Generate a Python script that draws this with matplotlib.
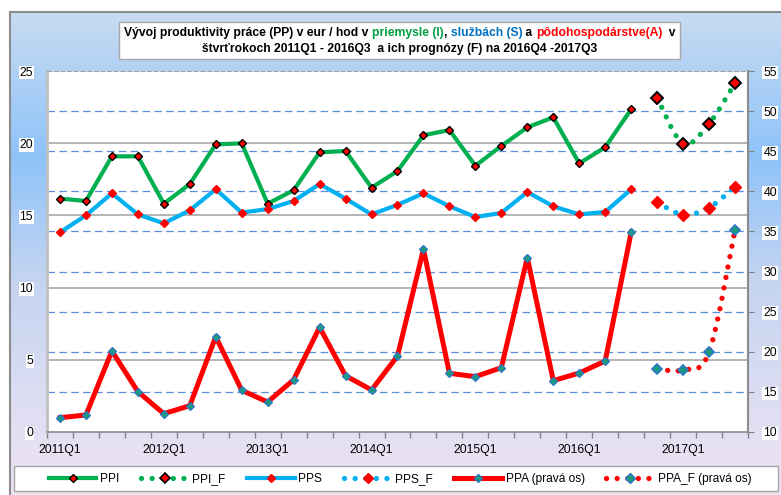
import numpy as np
import matplotlib
matplotlib.use("Agg")
import matplotlib.pyplot as plt
import matplotlib.transforms as mtransforms
from matplotlib.path import Path
from matplotlib.patches import PathPatch, Rectangle
from matplotlib.lines import Line2D
from matplotlib import font_manager
from matplotlib.colors import LinearSegmentedColormap

# --- data (quarters 2011Q1 .. 2017Q3) ---
xlabels = ["2011Q1", "2012Q1", "2013Q1", "2014Q1", "2015Q1", "2016Q1", "2017Q1"]
n_quarters = 27
n_actual = 23  # 2011Q1 - 2016Q3

ppi = [16.16, 16.0, 19.09, 19.09, 15.81, 17.17, 19.92, 19.99, 15.81, 16.74, 19.37, 19.46,
       16.92, 18.07, 20.55, 20.91, 18.44, 19.81, 21.1, 21.79, 18.6, 19.72, 22.35]
ppi_f = [23.15, 19.97, 21.35, 24.17]
pps = [13.83, 15.0, 16.53, 15.07, 14.45, 15.35, 16.81, 15.19, 15.44, 16.0, 17.17, 16.16,
       15.07, 15.73, 16.53, 15.63, 14.89, 15.17, 16.62, 15.63, 15.07, 15.24, 16.81]
pps_f = [15.9, 15.05, 15.53, 16.99]
ppa = [11.78, 12.12, 20.1, 15.03, 12.28, 13.28, 21.88, 15.2, 13.74, 16.52, 23.05, 17.02,
       15.24, 19.47, 32.78, 17.32, 16.9, 18.02, 31.75, 16.4, 17.35, 18.85, 34.9]
ppa_f = [17.85, 17.73, 19.93, 35.18]

GREEN = "#00B050"
BLUE = "#00B0F0"
RED = "#FF0000"
TEAL = "#1E9A7A"
TEALEDGE = "#2A78C8"


def pick(names):
    for n in names:
        try:
            font_manager.findfont(n, fallback_to_default=False)
            return n
        except Exception:
            pass
    return "DejaVu Sans"


narrow = pick(["Liberation Sans Narrow", "Arial Narrow"])
is_narrow = narrow != "DejaVu Sans"
if not is_narrow:
    narrow = pick(["Liberation Sans", "Arial"])
tick_fs = 10.5 if is_narrow else 8.8
leg_fs = 10.5 if is_narrow else 8.6
plt.rcParams["font.family"] = [narrow, "DejaVu Sans"]


def smooth_path(xs, ys):
    # Excel-like smoothed line (cubic bezier segments)
    pts = np.column_stack([xs, ys]).astype(float)
    n = len(pts)
    verts = [pts[0]]
    codes = [Path.MOVETO]
    for i in range(n - 1):
        p0 = pts[i - 1] if i > 0 else pts[i]
        p1, p2 = pts[i], pts[i + 1]
        p3 = pts[i + 2] if i + 2 < n else pts[i + 1]
        verts += [p1 + (p2 - p0) / 6, p2 - (p3 - p1) / 6, p2]
        codes += [Path.CURVE4] * 3
    return Path(verts, codes)


W, H = 781, 495
fig = plt.figure(figsize=(W / 100, H / 100), dpi=100, facecolor="white")

# background gradient panel
bg = fig.add_axes([10 / W, 0, 1 - 10 / W, 1 - 12 / H], zorder=-10)
cmap = LinearSegmentedColormap.from_list(
    "bg", [(0.0, "#C8DBF2"), (0.3, "#8EC3F9"), (0.55, "#C3D4F1"), (1.0, "#F0E4F3")])
bg.imshow(np.linspace(0, 1, 256).reshape(-1, 1), aspect="auto", cmap=cmap,
          extent=[0, 1, 0, 1], origin="upper")
bg.set_axis_off()
fig.patches.append(Rectangle((10 / W, -0.01), 1, 1 - 12 / H + 0.01, transform=fig.transFigure,
                             fill=False, edgecolor="#8C8C8C", linewidth=1.5, zorder=-5))

ax = fig.add_axes([47 / W, 63 / H, 701 / W, 361 / H])
ax.set_facecolor("white")
ax2 = ax.twinx()

x_act = np.arange(n_actual)
x_fc = np.arange(n_actual, n_quarters)

ax.set_xlim(-0.5, n_quarters - 0.5)
ax.set_ylim(0, 25)
ax2.set_ylim(10, 55)

# grid: solid grey for left axis, dashed blue for right axis
for v in [5, 10, 15, 20]:
    ax.axhline(v, color="#A0A0A0", lw=1.1, zorder=1)
blend = mtransforms.blended_transform_factory(ax.transAxes, ax2.transData)
for v in range(15, 55, 5):
    ax.add_line(Line2D([0, 1], [v, v], transform=blend, color="#5A8DDA", lw=0.9,
                       linestyle=(0, (6, 3.5)), zorder=1.2))

dot = (0, (0.01, 2.0))
dot_lw = 3.8

# industry
ax.plot(x_act, ppi, color=GREEN, lw=3.0, marker="D", ms=4.2, mfc=RED, mec="black",
        mew=1.0, zorder=3)
ax.add_patch(PathPatch(smooth_path(x_fc, ppi_f), fill=False, edgecolor=GREEN, lw=dot_lw,
                       linestyle=dot, capstyle="round", zorder=3))
ax.plot(x_fc, ppi_f, ls="none", marker="D", ms=5.8, mfc=RED, mec="black", mew=1.4, zorder=4)

# services
ax.plot(x_act, pps, color=BLUE, lw=3.0, marker="D", ms=3.8, mfc=RED, mec=RED, zorder=3)
ax.add_patch(PathPatch(smooth_path(x_fc, pps_f), fill=False, edgecolor=BLUE, lw=dot_lw,
                       linestyle=dot, capstyle="round", zorder=3))
ax.plot(x_fc, pps_f, ls="none", marker="D", ms=5.8, mfc=RED, mec=RED, zorder=4)

# agriculture (right axis)
ax2.plot(x_act, ppa, color=RED, lw=3.6, marker="D", ms=3.6, mfc=TEAL, mec=TEALEDGE,
         mew=0.9, zorder=3)
ax2.add_patch(PathPatch(smooth_path(x_fc, ppa_f), fill=False, edgecolor=RED, lw=dot_lw,
                        linestyle=dot, capstyle="round", zorder=3))
ax2.plot(x_fc, ppa_f, ls="none", marker="D", ms=5.0, mfc=TEAL, mec=TEALEDGE, mew=1.2, zorder=4)

# axes styling
ax.set_xticks(np.arange(0, n_quarters, 4))
ax.set_xticklabels(xlabels)
ax.set_xticks(np.arange(-0.5, n_quarters, 1), minor=True)
ax.tick_params(axis="x", which="major", length=0, pad=9, labelsize=tick_fs)
ax.tick_params(axis="x", which="minor", length=4, color="#808080", width=1)
ax.set_yticks(range(0, 26, 5))
ax.tick_params(axis="y", length=0, pad=10, labelsize=tick_fs)
ax2.set_yticks(range(10, 56, 5))
ax2.tick_params(axis="y", length=4, color="#808080", pad=7, labelsize=tick_fs)
for lab in ax.get_yticklabels() + ax2.get_yticklabels():
    lab.set_bbox(dict(facecolor="white", edgecolor="none", pad=0.6))

ax.spines["left"].set_color("#C0C0C0")
ax.spines["left"].set_linewidth(2)
ax.spines["bottom"].set_color("#8C8C8C")
ax.spines["bottom"].set_linewidth(1.2)
ax.spines["top"].set_color("#A0A0A0")
ax.spines["top"].set_linestyle((0, (4, 2)))
ax.spines["right"].set_visible(False)
for s in ["left", "top", "bottom"]:
    ax2.spines[s].set_visible(False)
ax2.spines["right"].set_color("#8C8C8C")
ax2.spines["right"].set_linewidth(1.5)

# title box with coloured parts
fig.patches.append(Rectangle((119 / W, 1 - 59 / H), 561 / W, 36.5 / H, transform=fig.transFigure,
                             facecolor="white", edgecolor="#A6A6A6", linewidth=1, zorder=5))
line1 = [("Vývoj produktivity práce (PP) v eur / hod v ", "black"), ("priemysle (I)", "#00A040"),
         (", ", "black"), ("službách (S)", "#0070C0"), (" a ", "black"),
         ("pôdohospodárstve(A)", RED), ("  v", "black")]
line2 = [("štvrťrokoch 2011Q1 - 2016Q3  a ich prognózy (F) na 2016Q4 -2017Q3", "black")]

renderer = fig.canvas.get_renderer()


def measure(parts, fs):
    widths = []
    for txt, c in parts:
        t = fig.text(0, 0, txt, fontsize=fs, fontweight="bold")
        widths.append(t.get_window_extent(renderer).width)
        t.remove()
    return widths


title_fs = 10
scale = 549 / sum(measure(line1, title_fs))
title_fs = title_fs * scale

for parts, yc in [(line1, 33), (line2, 49)]:
    widths = measure(parts, title_fs)
    x0 = 400 - sum(widths) / 2
    for (txt, c), w in zip(parts, widths):
        fig.text(x0 / W, 1 - yc / H, txt, fontsize=title_fs, fontweight="bold", color=c,
                 ha="left", va="center", zorder=6)
        x0 += w

# legend
fig.patches.append(Rectangle((14 / W, 1 - 491 / H), 764 / W, 25 / H, transform=fig.transFigure,
                             facecolor="white", edgecolor="#A6A6A6", linewidth=1, zorder=5))
handles = [
    Line2D([], [], color=GREEN, lw=3.0, marker="D", ms=4.2, mfc=RED, mec="black", mew=1),
    Line2D([], [], color=GREEN, lw=dot_lw, ls=dot, dash_capstyle="round", marker="D", ms=5.5,
           mfc=RED, mec="black", mew=1.2),
    Line2D([], [], color=BLUE, lw=3.0, marker="D", ms=3.8, mfc=RED, mec=RED),
    Line2D([], [], color=BLUE, lw=dot_lw, ls=dot, dash_capstyle="round", marker="D", ms=5.5,
           mfc=RED, mec=RED),
    Line2D([], [], color=RED, lw=3.6, marker="D", ms=3.6, mfc=TEAL, mec=TEALEDGE),
    Line2D([], [], color=RED, lw=dot_lw, ls=dot, dash_capstyle="round", marker="D", ms=5,
           mfc=TEAL, mec=TEALEDGE),
]
labels = ["PPI", "PPI_F", "PPS", "PPS_F", "PPA (pravá os)", "PPA_F (pravá os)"]
leg = fig.legend(handles, labels, loc="center", bbox_to_anchor=(400 / W, 1 - 479 / H),
                 ncol=6, frameon=False, fontsize=leg_fs, handlelength=4.0, numpoints=1,
                 handletextpad=0.3, columnspacing=1.8, borderpad=0)
leg.set_zorder(7)

fig.savefig("out.png", dpi=100, facecolor="white")
